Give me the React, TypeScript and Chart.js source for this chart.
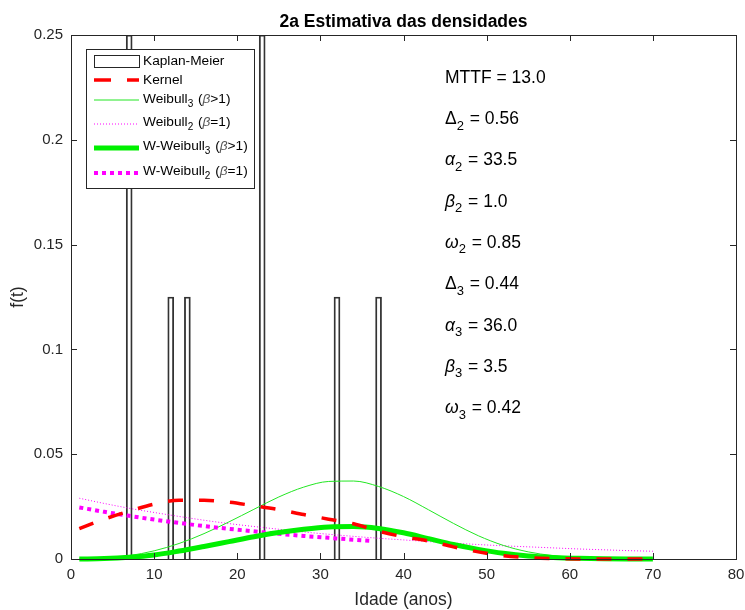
import { useEffect, useRef } from 'react';
import { Chart, registerables } from 'chart.js';

Chart.register(...registerables);

const FONT = '"Liberation Sans", Arial, Helvetica, sans-serif';
const AXIS_COLOR = '#262626';

const chartTitle = '2a Estimativa das densidades';
const xTitle = 'Idade (anos)';
const yTitle = 'f(t)';

const xTickValues = [0, 10, 20, 30, 40, 50, 60, 70, 80];
const yTickValues = [0, 0.05, 0.1, 0.15, 0.2, 0.25];
const yTickLabels = ['0', '0.05', '0.1', '0.15', '0.2', '0.25'];

// Kaplan-Meier density bars
const kmTimes = [7, 12, 14, 23, 32, 37];
const kmDensity = [0.25, 0.125, 0.125, 0.25, 0.125, 0.125];

// Fitted / smoothed density curves
const tGrid = [1, 4, 7, 10, 13, 16, 19, 22, 25, 28, 31, 34, 37, 40, 43, 46, 49, 52, 55, 58, 61, 64, 67, 70];
const kernelDensity = [0.0145, 0.019, 0.0228, 0.0262, 0.028, 0.028, 0.0271, 0.0254, 0.0236, 0.0212, 0.019, 0.0168, 0.0133, 0.0106, 0.0086, 0.0058, 0.0034, 0.0016, 0.0006, 0.0002, 0, 0, 0, 0];
const weibull3Density = [0.0, 0.0004, 0.0016, 0.0039, 0.0074, 0.0121, 0.0177, 0.0237, 0.0296, 0.0343, 0.037, 0.0372, 0.0346, 0.0298, 0.0235, 0.017, 0.0111, 0.0065, 0.0034, 0.0016, 0.0006, 0.0002, 0.0001, 0.0];
const weibull2Density = [0.029, 0.0265, 0.0242, 0.0222, 0.0203, 0.0185, 0.0169, 0.0155, 0.0142, 0.0129, 0.0118, 0.0108, 0.0099, 0.0091, 0.0083, 0.0076, 0.0069, 0.0063, 0.0058, 0.0053, 0.0048, 0.0044, 0.004, 0.0037];
const wWeibull3Density = [0, 0.0002, 0.0008, 0.0019, 0.0038, 0.006, 0.0083, 0.0106, 0.0126, 0.0142, 0.0153, 0.0155, 0.0146, 0.0125, 0.0097, 0.0069, 0.0046, 0.0027, 0.0014, 0.0007, 0.0003, 0.0001, 0, 0];
const wWeibull2Times = [1, 4, 7, 10, 13, 16, 19, 22, 25, 28, 31, 34, 36];
const wWeibull2Density = [0.0246, 0.0225, 0.0206, 0.0188, 0.0172, 0.0157, 0.0144, 0.0132, 0.012, 0.011, 0.0101, 0.0092, 0.0087];

// Parameter annotations
const statSymbols = ['MTTF', 'Δ', 'α', 'β', 'ω', 'Δ', 'α', 'β', 'ω'];
const statSubscripts = ['', '2', '2', '2', '2', '3', '3', '3', '3'];
const statValues = ['13.0', '0.56', '33.5', '1.0', '0.85', '0.44', '36.0', '3.5', '0.42'];

// Legend entries
const legendNames = ['Kaplan-Meier', 'Kernel', 'Weibull', 'Weibull', 'W-Weibull', 'W-Weibull'];
const legendSubs = ['', '', '3', '2', '3', '2'];
const legendConds = ['', '', '>1', '=1', '>1', '=1'];

const RED = '#ff0000';
const GREEN_THIN = '#22e622';
const GREEN_THICK = '#00f000';
const MAGENTA = '#ff00ff';

const toPoints = (xs: number[], ys: number[]) => xs.map((x, i) => ({ x, y: ys[i] }));

type Seg = { t: string; sub?: boolean; it?: boolean; color?: string };

function drawRich(ctx: CanvasRenderingContext2D, x: number, y: number, segs: Seg[], size: number, color: string) {
  let cx = x;
  ctx.textAlign = 'left';
  ctx.textBaseline = 'middle';
  for (const s of segs) {
    const fs = s.sub ? Math.round(size * 0.75) : size;
    ctx.font = `${s.it ? 'italic ' : ''}${fs}px ${FONT}`;
    ctx.fillStyle = s.color || color;
    ctx.fillText(s.t, cx, s.sub ? y + size * 0.38 : y);
    cx += ctx.measureText(s.t).width + (s.sub ? 1 : 0);
  }
}

const overlayPlugin = {
  id: 'overlay',
  afterDraw(chart: any) {
    const { ctx, chartArea: a, scales } = chart;
    const xs = scales.x;
    const ys = scales.y;
    ctx.save();

    // axes box
    ctx.strokeStyle = AXIS_COLOR;
    ctx.lineWidth = 1;
    ctx.setLineDash([]);
    ctx.strokeRect(Math.round(a.left) + 0.5, Math.round(a.top) + 0.5, Math.round(a.right - a.left), Math.round(a.bottom - a.top));

    // inward tick marks on all four sides
    const tl = 6;
    ctx.beginPath();
    for (const v of xTickValues) {
      const px = Math.round(xs.getPixelForValue(v)) + 0.5;
      ctx.moveTo(px, a.bottom);
      ctx.lineTo(px, a.bottom - tl);
      ctx.moveTo(px, a.top);
      ctx.lineTo(px, a.top + tl);
    }
    for (const v of yTickValues) {
      const py = Math.round(ys.getPixelForValue(v)) + 0.5;
      ctx.moveTo(a.left, py);
      ctx.lineTo(a.left + tl, py);
      ctx.moveTo(a.right, py);
      ctx.lineTo(a.right - tl, py);
    }
    ctx.stroke();

    // title
    const cx = (a.left + a.right) / 2;
    ctx.fillStyle = '#000';
    ctx.font = `bold 17.5px ${FONT}`;
    ctx.textAlign = 'center';
    ctx.textBaseline = 'middle';
    ctx.fillText(chartTitle, cx, 22);

    // axis titles
    ctx.fillStyle = AXIS_COLOR;
    ctx.font = `17.5px ${FONT}`;
    ctx.fillText(xTitle, cx, 600);
    ctx.save();
    ctx.translate(18, (a.top + a.bottom) / 2);
    ctx.rotate(-Math.PI / 2);
    ctx.fillText(yTitle, 0, 0);
    ctx.restore();

    // legend box
    const lx = a.left + 15;
    const ly = a.top + 14;
    const lw = 168;
    const lh = 139;
    ctx.fillStyle = '#fff';
    ctx.fillRect(lx, ly, lw, lh);
    ctx.strokeStyle = AXIS_COLOR;
    ctx.lineWidth = 1;
    ctx.strokeRect(Math.round(lx) + 0.5, Math.round(ly) + 0.5, lw, lh);

    const textRows = [12.5, 31, 50.5, 73, 97.5, 122];
    const lineRows = [12, 31, 51, 75, 99, 124];
    const sx0 = lx + 8;
    const sx1 = lx + 53;
    const styles = [
      null,
      { color: RED, width: 3.5, dash: [17, 16] },
      { color: GREEN_THIN, width: 1, dash: [] },
      { color: MAGENTA, width: 1, dash: [1, 2] },
      { color: GREEN_THICK, width: 5, dash: [] },
      { color: MAGENTA, width: 4, dash: [4, 4] },
    ];
    legendNames.forEach((name, i) => {
      const yLine = ly + lineRows[i];
      const st = styles[i];
      if (!st) {
        ctx.setLineDash([]);
        ctx.strokeStyle = AXIS_COLOR;
        ctx.lineWidth = 1;
        ctx.strokeRect(Math.round(sx0) + 0.5, Math.round(yLine - 6) + 0.5, sx1 - sx0, 12);
      } else {
        ctx.beginPath();
        ctx.setLineDash(st.dash);
        ctx.strokeStyle = st.color;
        ctx.lineWidth = st.width;
        ctx.lineCap = 'butt';
        ctx.moveTo(sx0, yLine);
        ctx.lineTo(sx1, yLine);
        ctx.stroke();
      }
      const segs: Seg[] = [{ t: name }];
      if (legendSubs[i]) {
        segs.push({ t: legendSubs[i], sub: true });
        segs.push({ t: ' (' });
        segs.push({ t: 'β', it: true, color: '#555' });
        segs.push({ t: legendConds[i] + ')' });
      }
      drawRich(ctx, sx1 + 4, ly + textRows[i], segs, 13.7, '#000');
    });
    ctx.setLineDash([]);

    // parameter annotations
    const tx = a.left + 374;
    statSymbols.forEach((sym, i) => {
      const y = a.top + 43 + i * 41.3;
      const isGreek = sym === 'α' || sym === 'β' || sym === 'ω';
      const segs: Seg[] = [{ t: sym, it: isGreek }];
      if (statSubscripts[i]) segs.push({ t: statSubscripts[i], sub: true });
      segs.push({ t: ' = ' + statValues[i] });
      drawRich(ctx, tx, y, segs, 17.5, '#000');
    });

    ctx.restore();
  },
};

export default function App() {
  const canvasRef = useRef<HTMLCanvasElement | null>(null);

  useEffect(() => {
    const canvas = canvasRef.current;
    if (!canvas) return;
    const chart = new Chart(canvas, {
      type: 'bar',
      data: {
        datasets: [
          {
            type: 'bar',
            label: 'Kaplan-Meier',
            data: toPoints(kmTimes, kmDensity),
            backgroundColor: 'rgba(0,0,0,0)',
            borderColor: '#333',
            borderWidth: 1.2,
            barThickness: 6,
            order: 10,
          } as any,
          {
            type: 'line',
            label: 'Weibull2',
            data: toPoints(tGrid, weibull2Density),
            borderColor: MAGENTA,
            borderWidth: 1,
            borderDash: [1, 2],
            pointRadius: 0,
            cubicInterpolationMode: 'monotone',
            order: 6,
          },
          {
            type: 'line',
            label: 'Weibull3',
            data: toPoints(tGrid, weibull3Density),
            borderColor: GREEN_THIN,
            borderWidth: 1,
            pointRadius: 0,
            cubicInterpolationMode: 'monotone',
            order: 5,
          },
          {
            type: 'line',
            label: 'W-Weibull2',
            data: toPoints(wWeibull2Times, wWeibull2Density),
            borderColor: MAGENTA,
            borderWidth: 4,
            borderDash: [4, 4],
            borderCapStyle: 'butt',
            pointRadius: 0,
            cubicInterpolationMode: 'monotone',
            order: 4,
          },
          {
            type: 'line',
            label: 'W-Weibull3',
            data: toPoints(tGrid, wWeibull3Density),
            borderColor: GREEN_THICK,
            borderWidth: 5,
            pointRadius: 0,
            cubicInterpolationMode: 'monotone',
            clip: 3,
            order: 3,
          },
          {
            type: 'line',
            label: 'Kernel',
            data: toPoints(tGrid, kernelDensity),
            borderColor: RED,
            borderWidth: 3.5,
            borderDash: [15, 16],
            borderCapStyle: 'butt',
            pointRadius: 0,
            cubicInterpolationMode: 'monotone',
            clip: 3,
            order: 2,
          },
        ] as any,
      },
      options: {
        responsive: false,
        animation: false,
        devicePixelRatio: 1,
        layout: { padding: { left: 0, top: 35, right: 9, bottom: 0 } },
        plugins: {
          legend: { display: false },
          title: { display: false },
          tooltip: { enabled: false },
        },
        scales: {
          x: {
            type: 'linear',
            min: 0,
            max: 80,
            offset: false,
            grid: { display: false, drawTicks: false },
            border: { display: false },
            afterFit: (s: any) => {
              s.height = 51;
              s.paddingLeft = 0;
              s.paddingRight = 0;
            },
            afterBuildTicks: (s: any) => {
              s.ticks = xTickValues.map((v) => ({ value: v }));
            },
            ticks: {
              padding: 7,
              color: AXIS_COLOR,
              font: { family: FONT, size: 15 },
              maxRotation: 0,
              callback: (v: any) => String(v),
            },
          },
          y: {
            type: 'linear',
            min: 0,
            max: 0.25,
            grid: { display: false, drawTicks: false },
            border: { display: false },
            afterFit: (s: any) => {
              s.width = 71;
              s.paddingTop = 0;
              s.paddingBottom = 0;
            },
            afterBuildTicks: (s: any) => {
              s.ticks = yTickValues.map((v) => ({ value: v }));
            },
            ticks: {
              padding: 8,
              color: AXIS_COLOR,
              font: { family: FONT, size: 15 },
              callback: (_v: any, i: number) => yTickLabels[i],
            },
          },
        },
      },
      plugins: [overlayPlugin],
    });
    return () => chart.destroy();
  }, []);

  return (
    <div style={{ position: 'fixed', left: 0, top: 0, width: 745, height: 610, background: '#fff' }}>
      <canvas ref={canvasRef} width={745} height={610} style={{ display: 'block', width: 745, height: 610 }} />
    </div>
  );
}
